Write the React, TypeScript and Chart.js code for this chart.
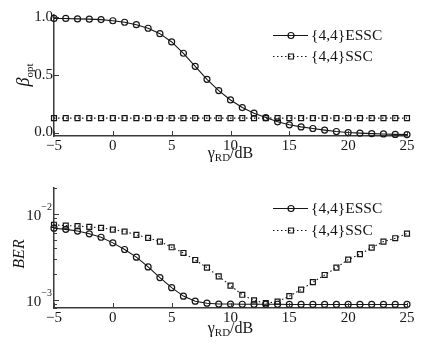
import React, { useEffect, useRef } from 'react';
import { Chart, registerables } from 'chart.js';

Chart.register(...registerables);

// ---------- data ----------
const snr = [-5, -4, -3, -2, -1, 0, 1, 2, 3, 4, 5, 6, 7, 8, 9, 10, 11, 12, 13, 14, 15, 16, 17, 18, 19, 20, 21, 22, 23, 24, 25];
const betaESSC = [0.99, 0.99, 0.986, 0.984, 0.98, 0.97, 0.957, 0.936, 0.905, 0.858, 0.786, 0.688, 0.575, 0.462, 0.364, 0.283, 0.217, 0.168, 0.13, 0.093, 0.067, 0.049, 0.035, 0.021, 0.009, 0.0, -0.005, -0.009, -0.012, -0.016, -0.018];
const betaSSC = [0.125, 0.125, 0.125, 0.125, 0.125, 0.125, 0.125, 0.125, 0.125, 0.125, 0.125, 0.125, 0.125, 0.125, 0.125, 0.125, 0.125, 0.125, 0.125, 0.125, 0.125, 0.125, 0.125, 0.125, 0.125, 0.125, 0.125, 0.125, 0.125, 0.125, 0.125];
const berESSC = [6.8e-3, 6.6e-3, 6.3e-3, 5.85e-3, 5.34e-3, 4.59e-3, 3.84e-3, 3.13e-3, 2.41e-3, 1.81e-3, 1.38e-3, 1.1e-3, 9.6e-4, 9.1e-4, 8.9e-4, 8.9e-4, 8.85e-4, 8.85e-4, 8.85e-4, 8.85e-4, 8.8e-4, 8.8e-4, 8.8e-4, 8.8e-4, 8.8e-4, 8.8e-4, 8.8e-4, 8.8e-4, 8.8e-4, 8.8e-4, 8.8e-4];
const berSSC = [7.44e-3, 7.3e-3, 7.2e-3, 7.05e-3, 6.87e-3, 6.56e-3, 6.22e-3, 5.69e-3, 5.25e-3, 4.75e-3, 4.08e-3, 3.5e-3, 2.9e-3, 2.36e-3, 1.87e-3, 1.46e-3, 1.14e-3, 9.8e-4, 9.1e-4, 9.5e-4, 1.1e-3, 1.31e-3, 1.6e-3, 1.94e-3, 2.36e-3, 2.93e-3, 3.39e-3, 4.04e-3, 4.75e-3, 5.2e-3, 5.89e-3];
const seriesNames = ['{4,4}ESSC', '{4,4}SSC'];
const xTicks = [-5, 0, 5, 10, 15, 20, 25];
const betaTicks = [0, 0.5, 1.0];
const berMajorTicks = [1e-3, 1e-2];
const berMajorExp = ['\u22123', '\u22122'];
const berMinorTicks = [8e-4, 9e-4, 2e-3, 3e-3, 4e-3, 5e-3, 6e-3, 7e-3, 8e-3, 9e-3, 2e-2];

// ---------- style ----------
const FONT = '"Liberation Serif", "Times New Roman", serif';
const INK = '#161616';
const AXIS = '#3a3a3a';

function drawMarker(ctx: CanvasRenderingContext2D, style: string, x: number, y: number) {
  ctx.lineWidth = 1.2;
  ctx.beginPath();
  if (style === 'circle') {
    ctx.arc(x, y, 3, 0, Math.PI * 2);
  } else {
    ctx.rect(x - 2.5, y - 2.5, 5, 5);
  }
  ctx.stroke();
}

function drawXTitle(ctx: CanvasRenderingContext2D, cx: number, baseline: number) {
  ctx.fillStyle = INK;
  ctx.textBaseline = 'alphabetic';
  ctx.textAlign = 'left';
  const f1 = `16px ${FONT}`;
  const f2 = `11px ${FONT}`;
  ctx.font = f1; const w1 = ctx.measureText('\u03b3').width;
  ctx.font = f2; const w2 = ctx.measureText('RD').width;
  ctx.font = f1; const w3 = ctx.measureText('/dB').width;
  let x = cx - (w1 + w2 + w3) / 2;
  ctx.font = f1; ctx.fillText('\u03b3', x, baseline); x += w1;
  ctx.font = f2; ctx.fillText('RD', x, baseline + 3); x += w2;
  ctx.font = f1; ctx.fillText('/dB', x, baseline);
}

function makePlugin(cfg: any) {
  return {
    id: 'decor',
    afterDraw(chart: any) {
      const { ctx, chartArea, scales } = chart;
      const xs = scales.x;
      const ys = scales.y;
      ctx.save();
      // inward ticks
      ctx.strokeStyle = AXIS;
      ctx.lineWidth = 1;
      ctx.setLineDash([]);
      xTicks.forEach((v) => {
        const px = Math.round(xs.getPixelForValue(v)) + 0.5;
        ctx.beginPath();
        ctx.moveTo(px, chartArea.bottom);
        ctx.lineTo(px, chartArea.bottom - 5);
        ctx.stroke();
      });
      cfg.yMajor.forEach((v: number) => {
        const py = Math.round(ys.getPixelForValue(v)) + 0.5;
        ctx.beginPath();
        ctx.moveTo(chartArea.left, py);
        ctx.lineTo(chartArea.left + 5, py);
        ctx.stroke();
      });
      (cfg.yMinor || []).forEach((v: number) => {
        const py = Math.round(ys.getPixelForValue(v)) + 0.5;
        ctx.beginPath();
        ctx.moveTo(chartArea.left, py);
        ctx.lineTo(chartArea.left + 3, py);
        ctx.stroke();
      });
      // log labels
      if (cfg.logLabels) {
        berMajorTicks.forEach((v, i) => {
          const py = ys.getPixelForValue(v);
          const right = chartArea.left - 2;
          ctx.fillStyle = INK;
          ctx.textAlign = 'right';
          ctx.textBaseline = 'middle';
          ctx.font = `10px ${FONT}`;
          const ws = ctx.measureText(berMajorExp[i]).width;
          ctx.fillText(berMajorExp[i], right, py - 6);
          ctx.font = `15px ${FONT}`;
          ctx.fillText('10', right - ws, py + 2);
        });
      }
      // x title
      drawXTitle(ctx, (chartArea.left + chartArea.right) / 2, cfg.xTitleBaseline);
      // y title
      ctx.save();
      ctx.translate(cfg.yTitleX, cfg.yTitleY);
      ctx.rotate(-Math.PI / 2);
      ctx.fillStyle = INK;
      ctx.textBaseline = 'alphabetic';
      ctx.textAlign = 'left';
      if (cfg.yTitle === 'beta') {
        const f1 = `italic 18px ${FONT}`;
        const f2 = `11px ${FONT}`;
        ctx.font = f1; const w1 = ctx.measureText('\u03b2').width;
        ctx.font = f2; const w2 = ctx.measureText('opt').width;
        let x = -(w1 + w2) / 2;
        ctx.font = f1; ctx.fillText('\u03b2', x, 5);
        ctx.font = f2; ctx.fillText('opt', x + w1, 9);
      } else {
        ctx.font = `italic 16px ${FONT}`;
        ctx.textAlign = 'center';
        ctx.fillText('BER', 0, 5);
      }
      ctx.restore();
      // legend
      cfg.legendRows.forEach((ry: number, i: number) => {
        ctx.strokeStyle = INK;
        ctx.lineWidth = 1;
        ctx.setLineDash(i === 0 ? [] : [1.5, 2.5]);
        ctx.beginPath();
        ctx.moveTo(273, ry + 0.5);
        ctx.lineTo(308, ry + 0.5);
        ctx.stroke();
        ctx.setLineDash([]);
        drawMarker(ctx, i === 0 ? 'circle' : 'rect', 291, ry + 0.5);
        ctx.fillStyle = INK;
        ctx.font = `15.5px ${FONT}`;
        ctx.textAlign = 'left';
        ctx.textBaseline = 'middle';
        ctx.fillText(seriesNames[i], 311, ry + 1);
      });
      ctx.restore();
    },
  };
}

function datasets(a: number[], b: number[]) {
  return [
    {
      label: seriesNames[0],
      data: snr.map((x, i) => ({ x, y: a[i] })),
      borderColor: INK,
      borderWidth: 1.1,
      pointStyle: 'circle',
      pointRadius: 3,
      pointBorderWidth: 1.2,
      pointBorderColor: INK,
      pointBackgroundColor: 'rgba(0,0,0,0)',
      clip: false,
      tension: 0,
    },
    {
      label: seriesNames[1],
      data: snr.map((x, i) => ({ x, y: b[i] })),
      borderColor: INK,
      borderWidth: 1.1,
      borderDash: [1.5, 2.5],
      pointStyle: 'rect',
      pointRadius: 3.5,
      pointBorderWidth: 1.2,
      pointBorderColor: INK,
      pointBackgroundColor: 'rgba(0,0,0,0)',
      clip: false,
      tension: 0,
    },
  ];
}

function xScale(height: number) {
  return {
    type: 'linear',
    min: -5,
    max: 25,
    afterBuildTicks: (s: any) => { s.ticks = xTicks.map((v) => ({ value: v })); },
    afterFit: (s: any) => { s.height = height; },
    grid: { display: false, drawTicks: false },
    border: { display: true, color: AXIS, width: 1.5 },
    ticks: {
      padding: 1,
      color: INK,
      font: { family: FONT, size: 15 },
      maxRotation: 0,
      autoSkip: false,
      callback: (v: any) => String(v).replace('-', '\u2212'),
    },
  };
}

export default function App() {
  const topRef = useRef<HTMLCanvasElement>(null);
  const botRef = useRef<HTMLCanvasElement>(null);

  useEffect(() => {
    document.body.style.margin = '0';
    const top = new Chart(topRef.current as HTMLCanvasElement, {
      type: 'line',
      data: { datasets: datasets(betaESSC, betaSSC) as any },
      options: {
        animation: false,
        responsive: false,
        devicePixelRatio: 1,
        layout: { padding: { top: 15, right: 25, left: 0, bottom: 0 } },
        plugins: { legend: { display: false }, tooltip: { enabled: false } },
        scales: {
          x: xScale(34) as any,
          y: {
            type: 'linear',
            min: -0.03,
            max: 1.02,
            afterBuildTicks: (s: any) => { s.ticks = betaTicks.map((v) => ({ value: v })); },
            afterFit: (s: any) => { s.width = 54; },
            grid: { display: false, drawTicks: false },
            border: { display: true, color: AXIS, width: 1.5 },
            ticks: {
              padding: 1,
              color: INK,
              font: { family: FONT, size: 15 },
              callback: (v: any) => Number(v).toFixed(1),
            },
          },
        },
      },
      plugins: [makePlugin({ yMajor: betaTicks, xTitleBaseline: 158, yTitleX: 24, yTitleY: 75, yTitle: 'beta', legendRows: [35, 56] })],
    });
    const bot = new Chart(botRef.current as HTMLCanvasElement, {
      type: 'line',
      data: { datasets: datasets(berESSC, berSSC) as any },
      options: {
        animation: false,
        responsive: false,
        devicePixelRatio: 1,
        layout: { padding: { top: 18, right: 25, left: 0, bottom: 0 } },
        plugins: { legend: { display: false }, tooltip: { enabled: false } },
        scales: {
          x: xScale(43) as any,
          y: {
            type: 'logarithmic',
            min: 8e-4,
            max: 2e-2,
            afterBuildTicks: (s: any) => { s.ticks = berMajorTicks.map((v) => ({ value: v })); },
            afterFit: (s: any) => { s.width = 54; },
            grid: { display: false, drawTicks: false },
            border: { display: true, color: AXIS, width: 1.5 },
            ticks: { display: false },
          },
        },
      },
      plugins: [makePlugin({ yMajor: berMajorTicks, yMinor: berMinorTicks, logLabels: true, xTitleBaseline: 163, yTitleX: 19, yTitleY: 84, yTitle: 'ber', legendRows: [38, 60] })],
    });
    return () => { top.destroy(); bot.destroy(); };
  }, []);

  return (
    <div style={{ position: 'relative', width: 432, height: 351, background: '#fff' }}>
      <canvas ref={topRef} width={432} height={170} style={{ position: 'absolute', left: 0, top: 0, display: 'block' }} />
      <canvas ref={botRef} width={432} height={181} style={{ position: 'absolute', left: 0, top: 170, display: 'block' }} />
    </div>
  );
}
